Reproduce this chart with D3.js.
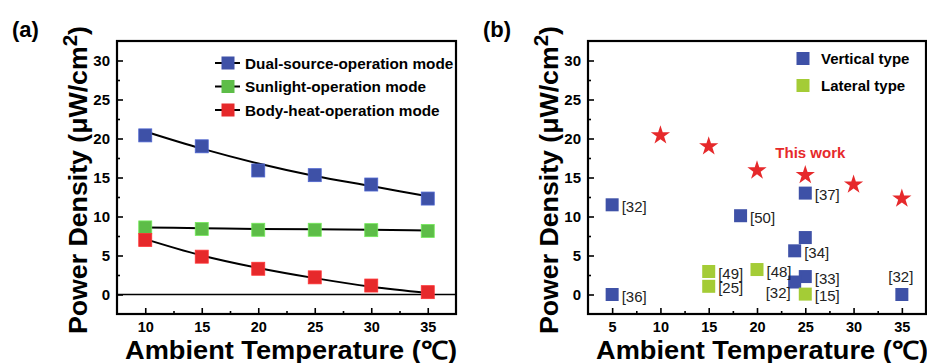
<!DOCTYPE html>
<html>
<head>
<meta charset="utf-8">
<script src="https://cdn.jsdelivr.net/npm/d3@7"></script>
<style>
  body { margin: 0; background: #fff; }
  svg { display: block; font-family: "Liberation Sans", Arial, sans-serif; }
</style>
</head>
<body>
<svg id="chart" width="927" height="363"></svg>
<script>
// panel (a) data
const temps = [10, 15, 20, 25, 30, 35];
const dualVals = [20.4, 19.0, 15.9, 15.3, 14.1, 12.3];
const sunVals = [8.6, 8.4, 8.3, 8.3, 8.25, 8.15];
const bodyVals = [7.0, 4.85, 3.3, 2.2, 1.15, 0.3];
// fitted curves
const dualFit = [20.9, 18.7, 16.8, 15.2, 13.9, 12.6];
const sunFit = [8.6, 8.5, 8.4, 8.35, 8.3, 8.2];
const bodyFit = [7.1, 5.0, 3.4, 2.1, 1.0, 0.2];
const seriesNames = ['Dual-source-operation mode', 'Sunlight-operation mode', 'Body-heat-operation mode'];

// panel (b) data
const verticalTemps = [5, 5, 18.3, 25, 25, 23.9, 25, 23.9, 35];
const verticalVals = [11.5, 0, 10.1, 13.0, 7.3, 5.6, 2.3, 1.6, 0];
const verticalRefs = ['[32]', '[36]', '[50]', '[37]', '', '[34]', '[33]', '[32]', '[32]'];
const verticalSide = ['right', 'right', 'right', 'right', 'none', 'right', 'right', 'leftbelow', 'above'];
const lateralTemps = [15, 15, 20, 25];
const lateralVals = [2.95, 1.05, 3.2, 0.05];
const lateralRefs = ['[49]', '[25]', '[48]', '[15]'];
const lateralSide = ['right', 'right', 'right', 'right'];
const typeNames = ['Vertical type', 'Lateral type'];

const yTicks = [0, 5, 10, 15, 20, 25, 30];
const yMinor = [2.5, 7.5, 12.5, 17.5, 22.5, 27.5];

const BLUE = '#3e51a7', GREEN = '#5dbd48', RED = '#e6292b', LIME = '#a4cc36';
const SQ = 13;

const svg = d3.select('#chart');

function frame(xDomain, xRange, xTicks, xMinor) {
  const x = d3.scaleLinear().domain(xDomain).range(xRange);
  const y = d3.scaleLinear().domain([-2.5, 32.5]).range([314, 41]);
  const g = svg.append('g');
  // axes, ticks pointing inwards
  g.append('g').attr('transform', 'translate(0,314)')
    .call(d3.axisBottom(x).tickValues(xMinor).tickSizeInner(-3).tickSizeOuter(0).tickFormat(''));
  g.append('g').attr('transform', 'translate(0,314)')
    .call(d3.axisBottom(x).tickValues(xTicks).tickSizeInner(-6).tickSizeOuter(0).tickPadding(8))
    .selectAll('text').attr('font-size', 14.5).attr('font-weight', 'bold').attr('fill', '#000');
  g.append('g').attr('transform', `translate(${xRange[0]},0)`)
    .call(d3.axisLeft(y).tickValues(yMinor).tickSizeInner(-3).tickSizeOuter(0).tickFormat(''));
  g.append('g').attr('transform', `translate(${xRange[0]},0)`)
    .call(d3.axisLeft(y).tickValues(yTicks).tickSizeInner(-6).tickSizeOuter(0).tickPadding(7))
    .selectAll('text').attr('font-size', 15).attr('font-weight', 'bold').attr('fill', '#000');
  g.selectAll('.domain').remove();
  g.selectAll('.tick line').attr('stroke', '#000').attr('stroke-width', 1.6);
  g.append('rect')
    .attr('x', xRange[0]).attr('y', 41)
    .attr('width', xRange[1] - xRange[0]).attr('height', 314 - 41)
    .attr('fill', 'none').attr('stroke', '#000').attr('stroke-width', 2.2);

  // titles
  const yt = g.append('text')
    .attr('transform', `translate(${xRange[0] - 30},180) rotate(-90)`)
    .attr('text-anchor', 'middle').attr('font-size', 26).attr('font-weight', 'bold')
    .attr('textLength', 308).attr('lengthAdjust', 'spacingAndGlyphs');
  yt.append('tspan').text('Power Density (μW/cm');
  yt.append('tspan').attr('font-size', 20).attr('dy', -10).text('2');
  yt.append('tspan').attr('dy', 10).text(')');
  g.append('text')
    .attr('x', xRange[0] + 8).attr('y', 359)
    .attr('font-size', 25).attr('font-weight', 'bold')
    .attr('textLength', 332).attr('lengthAdjust', 'spacingAndGlyphs')
    .text('Ambient Temperature (℃)');
  return { g, x, y };
}

// ---------- panel (a)
{
  const { g, x, y } = frame([7.5, 37.5], [117, 456], temps, [12.5, 17.5, 22.5, 27.5, 32.5]);
  svg.append('text').attr('x', 12).attr('y', 37).attr('font-size', 22).attr('font-weight', 'bold').text('(a)');

  g.append('line')
    .attr('x1', 117).attr('x2', 456).attr('y1', y(0)).attr('y2', y(0))
    .attr('stroke', '#000').attr('stroke-width', 1.6);

  const line = d3.line().x((d, i) => x(temps[i])).y(d => y(d)).curve(d3.curveMonotoneX);
  [dualFit, sunFit, bodyFit].forEach(f => {
    g.append('path').attr('d', line(f)).attr('fill', 'none').attr('stroke', '#000').attr('stroke-width', 2);
  });

  const sets = [[dualVals, BLUE], [sunVals, GREEN], [bodyVals, RED]];
  sets.forEach(([vals, col]) => {
    g.selectAll(null).data(vals).join('rect')
      .attr('x', (d, i) => x(temps[i]) - SQ / 2)
      .attr('y', d => y(d) - SQ / 2)
      .attr('width', SQ).attr('height', SQ)
      .attr('fill', col).attr('stroke', d3.color(col).brighter(0.6)).attr('stroke-width', 0.8);
  });

  // legend
  const leg = g.append('g');
  seriesNames.forEach((name, i) => {
    const ly = 63 + i * 23.5;
    leg.append('line').attr('x1', 215).attr('x2', 240).attr('y1', ly).attr('y2', ly)
      .attr('stroke', '#000').attr('stroke-width', 2);
    leg.append('rect').attr('x', 228 - SQ / 2).attr('y', ly - SQ / 2).attr('width', SQ).attr('height', SQ)
      .attr('fill', sets[i][1]);
    leg.append('text').attr('x', 245).attr('y', ly).attr('dy', '0.36em')
      .attr('font-size', 15.3).attr('font-weight', 'bold').text(name);
  });
}

// ---------- panel (b)
{
  const { g, x, y } = frame([2.5, 37.5], [588, 926], [5, 10, 15, 20, 25, 30, 35], [7.5, 12.5, 17.5, 22.5, 27.5, 32.5]);
  svg.append('text').attr('x', 483).attr('y', 37).attr('font-size', 22).attr('font-weight', 'bold').text('(b)');

  const star = d3.symbol().type(d3.symbolStar).size(115);
  g.selectAll(null).data(dualVals).join('path')
    .attr('d', star)
    .attr('transform', (d, i) => `translate(${x(temps[i])},${y(d)})`)
    .attr('fill', RED);
  g.append('text').attr('x', x(21.9)).attr('y', y(18.15)).attr('dy', '0.36em')
    .attr('font-size', 15).attr('font-weight', 'bold').attr('fill', RED).text('This work');

  const placeLabel = (sel, tx, ty, side) => {
    sel.each(function (d, i) {
      const px = x(tx[i]), py = y(ty[i]);
      const t = d3.select(this);
      if (side[i] === 'right') t.attr('x', px + 9.5).attr('y', py + 2).attr('text-anchor', 'start');
      else if (side[i] === 'leftbelow') t.attr('x', px - 4).attr('y', py + 10.5).attr('text-anchor', 'end');
      else if (side[i] === 'above') t.attr('x', px - 1).attr('y', py - 17.5).attr('text-anchor', 'middle');
    });
  };

  [[verticalTemps, verticalVals, verticalRefs, verticalSide, BLUE],
   [lateralTemps, lateralVals, lateralRefs, lateralSide, LIME]].forEach(([tx, ty, refs, side, col]) => {
    g.selectAll(null).data(ty).join('rect')
      .attr('x', (d, i) => x(tx[i]) - SQ / 2)
      .attr('y', d => y(d) - SQ / 2)
      .attr('width', SQ).attr('height', SQ)
      .attr('fill', col);
    g.selectAll(null).data(refs).join('text')
      .attr('dy', '0.36em').attr('font-size', 14).attr('fill', '#222')
      .attr('textLength', 25).attr('lengthAdjust', 'spacingAndGlyphs')
      .text(d => d)
      .call(placeLabel, tx, ty, side);
  });

  [BLUE, LIME].forEach((col, i) => {
    const ly = 58.5 + i * 27;
    g.append('rect').attr('x', 803 - SQ / 2).attr('y', ly - SQ / 2).attr('width', SQ).attr('height', SQ).attr('fill', col);
    g.append('text').attr('x', 821).attr('y', ly).attr('dy', '0.36em')
      .attr('font-size', 15).attr('font-weight', 'bold').text(typeNames[i]);
  });
}
</script>
</body>
</html>
